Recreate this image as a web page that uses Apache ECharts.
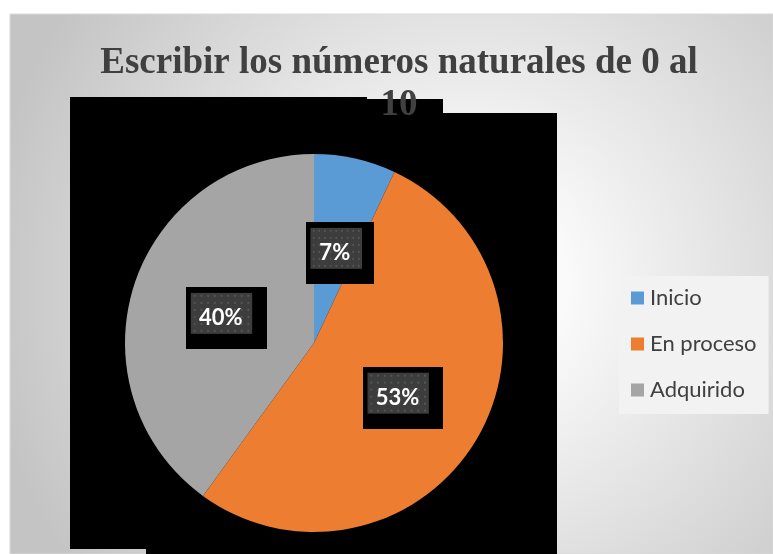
<!DOCTYPE html>
<html>
<head>
<meta charset="utf-8">
<script src="https://cdn.jsdelivr.net/npm/echarts@6/dist/echarts.min.js"></script>
<style>
  html, body { margin: 0; padding: 0; background: #fff; }
  #chart { width: 773px; height: 554px; }
</style>
</head>
<body>
<div id="chart"></div>
<script>
const categories = ["Inicio", "En proceso", "Adquirido"];
const values = [7, 53, 40];
const sliceColors = ["#5B9BD5", "#ED7D31", "#A5A5A5"];

// label box: black frame with a dotted dark panel inside
const boxImg = document.createElement("canvas");
boxImg.width = 84;
boxImg.height = 62;
const ctx = boxImg.getContext("2d");
ctx.fillStyle = "#000000";
ctx.fillRect(0, 0, 84, 62);
ctx.fillStyle = "#3d3d3d";
ctx.fillRect(5, 6, 64, 41);
ctx.fillStyle = "#555555";
for (let x = 8; x < 67; x += 7) {
  for (let y = 8; y < 45; y += 7) {
    ctx.fillRect(x, y, 2, 2);
  }
}

const chart = echarts.init(document.getElementById("chart"));

const option = {
  animation: false,
  color: sliceColors,
  title: {
    text: "Escribir los números naturales de 0 al\n10",
    left: 394,
    top: 37,
    textAlign: "center",
    textStyle: {
      fontFamily: "Liberation Serif",
      fontWeight: "bold",
      fontSize: 37,
      lineHeight: 42,
      color: "#404040"
    },
    z: 10
  },
  graphic: [
    {
      type: "rect",
      z: -10,
      shape: { x: 10, y: 14, width: 763, height: 540 },
      style: {
        fill: new echarts.graphic.RadialGradient(0.6, 0.5, 0.9, [
          { offset: 0, color: "#ffffff" },
          { offset: 0.2, color: "#fafafa" },
          { offset: 1, color: "#c4c4c4" }
        ]),
        stroke: "#d9d9d9",
        lineWidth: 1
      }
    },
    { type: "rect", z: -5, shape: { x: 70, y: 97, width: 297, height: 452 }, style: { fill: "#000" } },
    { type: "rect", z: -5, shape: { x: 367, y: 99, width: 76, height: 455 }, style: { fill: "#000" } },
    { type: "rect", z: -5, shape: { x: 443, y: 113, width: 114, height: 441 }, style: { fill: "#000" } },
    { type: "rect", z: -5, shape: { x: 146, y: 500, width: 221, height: 54 }, style: { fill: "#000" } }
  ],
  legend: {
    orient: "vertical",
    left: 619,
    top: 276,
    data: categories,
    itemWidth: 13,
    itemHeight: 13,
    itemGap: 24,
    padding: [11, 12, 13, 12],
    backgroundColor: "#f2f2f2",
    icon: "rect",
    textStyle: {
      fontFamily: "Lato",
      fontSize: 22,
      lineHeight: 20,
      color: "#404040",
      padding: [0, 0, 0, 1]
    }
  },
  series: [
    {
      type: "pie",
      center: [314, 343],
      radius: 189,
      startAngle: 90,
      clockwise: true,
      data: categories.map((name, i) => ({ name: name, value: values[i] })),
      label: {
        show: true,
        position: "inside",
        formatter: "{d}%",
        fontFamily: "Lato",
        fontWeight: "bold",
        fontSize: 22,
        lineHeight: 21,
        color: "#ffffff",
        offset: [5, 5],
        padding: [16, 24, 25, 13],
        backgroundColor: { image: boxImg }
      },
      labelLine: { show: false },
      emphasis: { disabled: true }
    }
  ]
};

chart.setOption(option);
</script>
</body>
</html>
